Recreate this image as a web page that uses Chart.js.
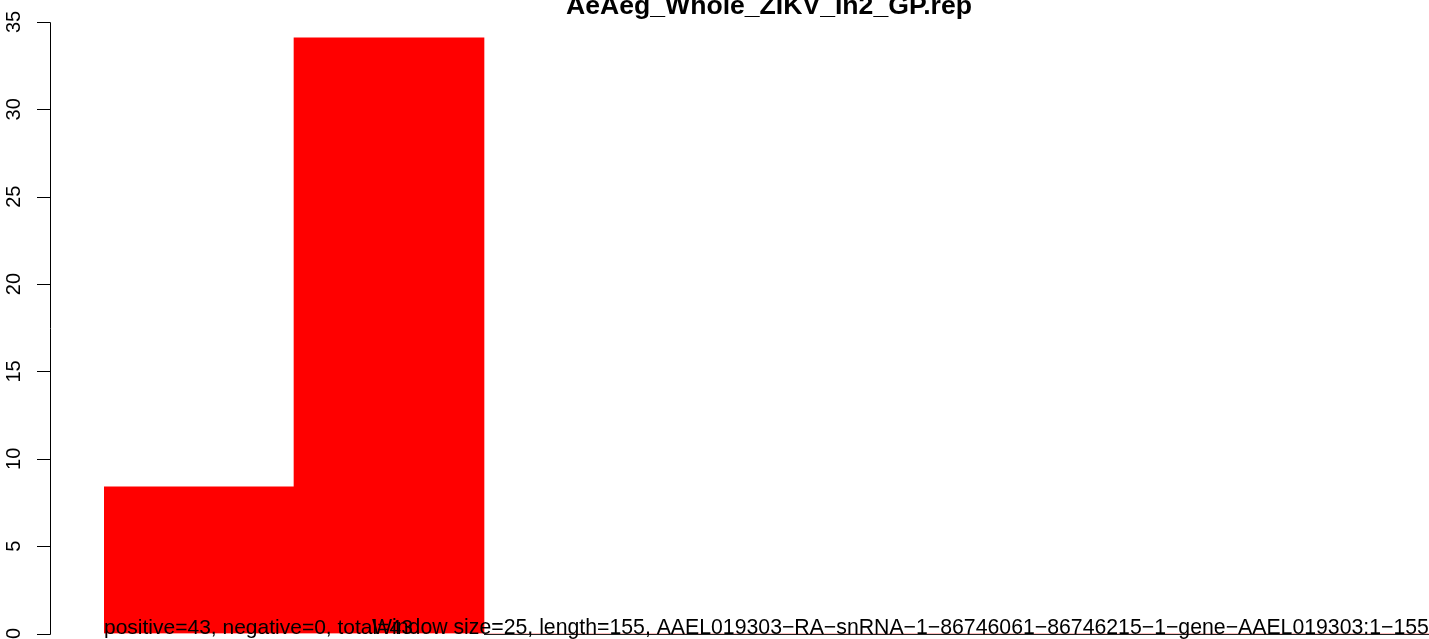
<!DOCTYPE html>
<html><head><meta charset="utf-8">
<script src="https://cdn.jsdelivr.net/npm/chart.js@4.4.1/dist/chart.umd.min.js"></script>
<style>html,body{margin:0;padding:0;overflow:hidden;background:#fff}
#wrap{position:relative;width:1500px;height:639px}</style>
</head><body><div id="wrap"><canvas id="c" width="1500" height="639"></canvas></div>
<script>
const windows = ['1', '2', '3', '4', '5', '6', '7'];
const values = [8.4, 34.1, 0, 0, 0, 0, 0];
const yTicks = [0, 5, 10, 15, 20, 25, 30, 35];
const titleText = "AeAeg_Whole_ZIKV_In2_GP.rep";
const statsText = "positive=43, negative=0, total=43";
const infoText = "Window size=25, length=155, AAEL019303\u2212RA\u2212snRNA\u22121\u221286746061\u221286746215\u22121\u2212gene\u2212AAEL019303:1\u2212155";

const FONT = '"Liberation Sans", Arial, Helvetica, sans-serif';

const rPlot = {
  id: 'rPlot',
  afterDraw(chart) {
    const ctx = chart.ctx;
    const xs = chart.scales.x, ys = chart.scales.y;
    const y0 = ys.getPixelForValue(0);
    const catW = (xs.right - xs.left) / windows.length;
    ctx.save();
    ctx.strokeStyle = '#000';
    ctx.fillStyle = '#000';
    ctx.lineWidth = 1;
    // y axis line
    const ax = 50.5;
    ctx.beginPath();
    ctx.moveTo(ax, Math.round(ys.getPixelForValue(yTicks[0])) + 0.5);
    ctx.lineTo(ax, Math.round(ys.getPixelForValue(yTicks[yTicks.length - 1])) + 0.5);
    ctx.stroke();
    // ticks and labels
    ctx.font = '20px ' + FONT;
    ctx.textAlign = 'center';
    ctx.textBaseline = 'alphabetic';
    yTicks.forEach(v => {
      const py = Math.round(ys.getPixelForValue(v)) + 0.5;
      ctx.beginPath();
      ctx.moveTo(37, py);
      ctx.lineTo(ax, py);
      ctx.stroke();
      ctx.save();
      ctx.translate(19.5, ys.getPixelForValue(v));
      ctx.rotate(-Math.PI / 2);
      ctx.fillText(String(v), 0, 0);
      ctx.restore();
    });
    // zero-height bars baseline
    const firstZero = values.findIndex(v => v === 0);
    ctx.strokeStyle = '#222';
    ctx.beginPath();
    ctx.moveTo(xs.getPixelForValue(firstZero) - catW / 2, Math.round(y0) + 0.5);
    ctx.lineTo(xs.right, Math.round(y0) + 0.5);
    ctx.stroke();
    // title centred on the full plot region
    const regL = xs.left - 0.28 * catW, regR = xs.right + 0.28 * catW;
    ctx.font = 'bold 26.6px ' + FONT;
    ctx.textAlign = 'center';
    ctx.fillText(titleText, (regL + regR) / 2, 13.5);
    // bottom texts
    ctx.font = '21px ' + FONT;
    ctx.textAlign = 'left';
    ctx.fillText(statsText, xs.left, y0);
    ctx.font = '21.25px ' + FONT;
    ctx.fillText(infoText, 372, y0);
    ctx.restore();
  }
};

new Chart(document.getElementById('c'), {
  type: 'bar',
  data: {
    labels: windows,
    datasets: [{
      data: values,
      backgroundColor: '#ff0000',
      borderWidth: 0,
      barPercentage: 1,
      categoryPercentage: 1
    }]
  },
  options: {
    responsive: false,
    animation: false,
    devicePixelRatio: 1,
    layout: { padding: { left: 104, right: 66, top: 22, bottom: 5.5 } },
    plugins: { legend: { display: false }, tooltip: { enabled: false }, title: { display: false } },
    scales: {
      x: { type: 'category', offset: true, display: false },
      y: { type: 'linear', min: 0, max: 35, display: false }
    }
  },
  plugins: [rPlot]
});
</script></body></html>
